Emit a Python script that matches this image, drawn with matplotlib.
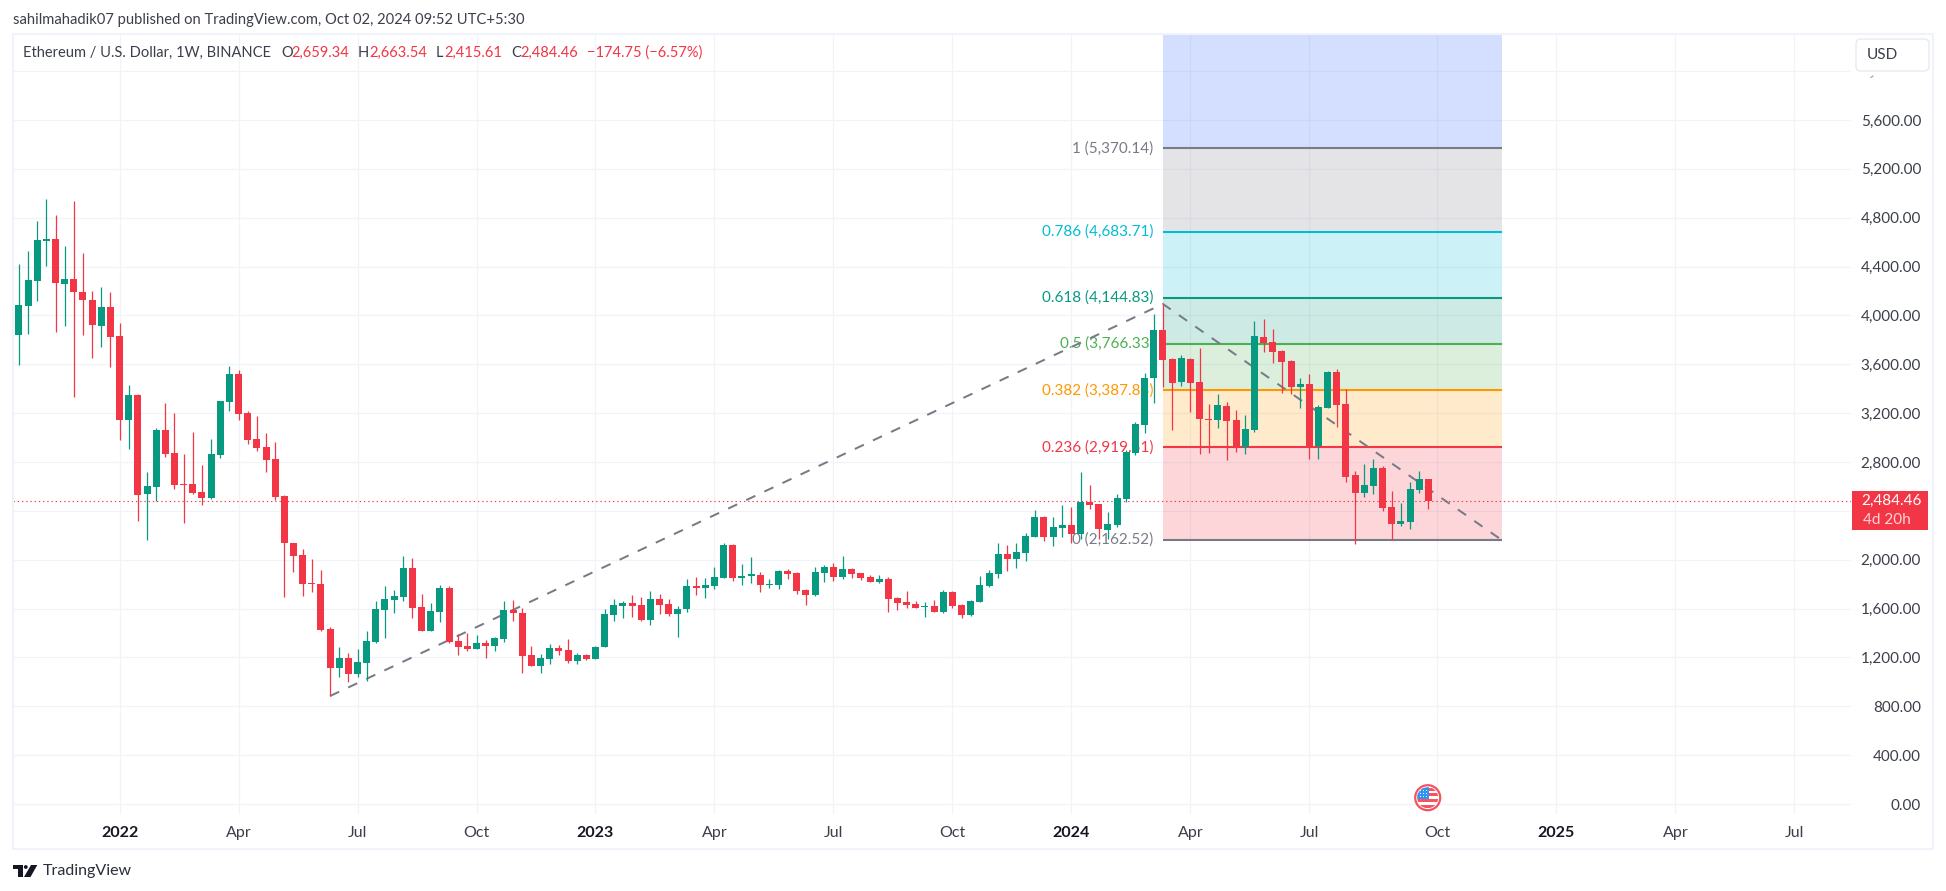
import numpy as np
import pandas as pd
import matplotlib
matplotlib.use('Agg')
import matplotlib.pyplot as plt
from matplotlib.patches import Rectangle, Circle, Polygon, FancyBboxPatch

# weekly candles, first bar is the week of 2021-10-18
first_bar = pd.Timestamp('2021-10-18')
open_ = [3840,4077,4282,4609,4626,4257,4298,4192,4126,3914,4069,
         3832,3144,3349,2538,2595,3062,2874,2620,2620,2554,2505,2857,3291,
         3521,3201,2988,2923,2825,2522,2137,2039,1809,1801,1433,1113,1195,
         1064,1154,1326,1588,1670,1695,1932,1613,1416,1572,1768,1334,1293,
         1269,1318,1293,1351,1588,1564,1220,1130,1187,1277,1261,1171,1220,
         1187,1285,1547,1621,1645,1629,1506,1678,1637,1555,1596,1785,1768,
         1785,1850,2120,1850,1867,1875,1793,1793,1907,1891,1752,1711,1891,
         1940,1858,1924,1891,1858,1817,1842,1686,1654,1637,1613,1621,1572,
         1736,1629,1547,1654,1785,1883,2047,2006,2055,2186,2350,2186,2260,
         2284,2210,2472,2456,2243,2284,2497,2874,3103,3488,3881,3643,3455,
         3643,3455,3152,3144,3258,3144,2923,3062,3823,3782,3709,3627,3414,
         3438,2931,3242,3537,3275,2693,2546,2603,2751,2431,2292,2309,2571,
         2659.34]
high = [4421,4528,4773,4953,4822,4568,4937,4511,4200,4233,4192,
        3938,3430,3357,2718,3078,3283,3201,2866,3046,2776,2988,3300,3586,
        3553,3218,3177,3037,2964,2530,2140,2088,2006,1916,1449,1285,1236,
        1269,1416,1662,1785,1752,2030,2014,1719,1645,1793,1785,1392,1400,
        1384,1342,1367,1662,1670,1605,1293,1228,1310,1302,1351,1236,1228,
        1293,1596,1678,1662,1711,1695,1744,1719,1678,1621,1842,1858,1850,
        1940,2137,2125,1965,2022,1899,1842,1916,1924,1899,1760,1940,1957,
        1973,2030,1932,1895,1875,1875,1858,1695,1744,1662,1654,1670,1752,
        1744,1637,1670,1867,1916,2137,2120,2137,2219,2407,2358,2350,2448,
        2431,2718,2612,2460,2391,2538,2898,3127,3529,4012,4094,3648,3676,
        3651,3733,3275,3357,3291,3226,3185,3954,3971,3889,3715,3635,3488,
        3520,3267,3545,3561,3397,2726,2784,2824,2767,2562,2464,2636,2726,
        2663.54]
low = [3594,3848,4118,4405,3864,3914,3332,3840,3652,3742,3578,
       2980,2907,2317,2161,2481,2841,2579,2301,2538,2448,2497,2833,3218,
       3144,2947,2890,2718,2489,1695,1899,1703,1736,1420,884,1040,999,
       1040,1007,1322,1359,1564,1662,1523,1416,1414,1490,1322,1220,1252,
       1265,1195,1252,1326,1498,1072,1128,1072,1146,1220,1154,1146,1179,
       1185,1283,1498,1523,1531,1498,1465,1555,1539,1367,1572,1711,1686,
       1760,1848,1826,1793,1809,1736,1768,1760,1842,1719,1629,1703,1817,
       1826,1842,1850,1834,1815,1809,1572,1588,1605,1603,1531,1570,1564,
       1605,1523,1539,1652,1776,1850,1907,1932,1989,2184,2153,2112,2186,
       2137,2170,2415,2170,2170,2268,2472,2857,3037,3283,3414,3062,3422,
       3209,2865,2874,3078,2816,2882,2865,3045,3700,3610,3365,3357,3242,
       2824,2824,3240,3086,2636,2129,2513,2538,2399,2161,2276,2251,2546,
       2415.61]
close = [4085,4290,4618,4626,4266,4298,4192,4126,3922,4069,3823,
         3144,3349,2530,2604,3062,2866,2612,2612,2546,2505,2866,3300,3521,
         3193,2980,2915,2816,2514,2137,2030,1801,1801,1424,1113,1195,1064,
         1162,1334,1596,1678,1703,1932,1605,1416,1580,1768,1326,1285,1269,
         1318,1293,1359,1588,1564,1212,1130,1195,1277,1252,1171,1220,1187,
         1285,1555,1629,1645,1621,1506,1678,1629,1555,1596,1785,1768,1793,
         1858,2120,1850,1867,1883,1793,1801,1907,1883,1744,1711,1899,1940,
         1858,1924,1883,1850,1817,1842,1678,1645,1629,1605,1621,1572,1736,
         1621,1547,1662,1793,1891,2047,2006,2063,2194,2350,2186,2268,2284,
         2210,2472,2448,2251,2292,2505,2882,3111,3488,3881,3635,3447,3651,
         3447,3152,3144,3267,3135,2923,3070,3831,3774,3700,3619,3414,3438,
         2923,3250,3537,3267,2677,2546,2611,2751,2423,2292,2317,2579,2661,
         2484.46]

# time axis
tick_dates = ['2022-01-03','2022-04-04','2022-07-04','2022-10-03','2023-01-02','2023-04-03','2023-07-03',
              '2023-10-02','2024-01-01','2024-04-01','2024-07-01','2024-10-07','2025-01-06','2025-04-07','2025-07-07']
tick_labels = ['2022','Apr','Jul','Oct','2023','Apr','Jul','Oct','2024','Apr','Jul','Oct','2025','Apr','Jul']
# price axis, 2,400 sits behind the price tag and 6,000 behind the USD button
price_ticks = [0,400,800,1200,1600,2000,2400,2800,3200,3600,4000,4400,4800,5200,5600,6000]
hidden_ticks = [2400, 6000]

# fibonacci drawing
fib_levels = [0, 0.236, 0.382, 0.5, 0.618, 0.786, 1]
fib_prices = [2162.52, 2919.51, 3387.83, 3766.33, 4144.83, 4683.71, 5370.14]
fib_top = 7352.0
fib_colors = ['#787B86','#F23645','#FF9800','#4CAF50','#089981','#00BCD4','#787B86']
fib_fills = ['#F23645','#FF9800','#4CAF50','#089981','#00BCD4','#787B86','#2962FF']
fib_start = '2024-03-11'
fib_end = '2024-11-25'
# dashed trend line, bar date and price
trend_dates = ['2022-06-13','2024-03-11','2024-11-25']
trend_prices = [884, 4094, 2162.52]
last_price = 2484.46

UI_FONT = ['Lato', 'DejaVu Sans']
GREEN = '#089981'
RED = '#F23645'
TEXT = '#3B3F4A'
DARK = '#131722'
GRID = '#F0F3FA'
W, H = 1946, 891

plt.rcParams['font.family'] = UI_FONT
fig = plt.figure(figsize=(W/100, H/100), dpi=100, facecolor='white')

# pane in pixels: left 13, right 1851, top 34, bottom 814
ax = fig.add_axes([13/W, (H-814)/H, (1851-13)/W, (814-34)/H])
bar_px = 9.152
ax.set_xlim((13-18.9)/bar_px, (1851-18.9)/bar_px)
ax.set_ylim(-(814-804)/0.12214, (804-34)/0.12214)
for s in ax.spines.values():
    s.set_visible(False)

def barPos(day):
    return (pd.Timestamp(day)-first_bar).days/7

xs = np.arange(len(open_))
o = np.array(open_)
h = np.array(high)
l = np.array(low)
c = np.array(close)
colors = [GREEN if c[i] >= o[i] else RED for i in range(len(o))]

# grid
ax.set_xticks([barPos(d) for d in tick_dates])
ax.set_xticklabels(tick_labels)
ax.set_yticks(price_ticks)
ax.set_yticklabels(['' if p in hidden_ticks else '{:,.2f}'.format(p) for p in price_ticks])
ax.set_axisbelow(True)
ax.grid(True, color=GRID, linewidth=0.9)
ax.yaxis.tick_right()
ax.tick_params(axis='both', length=0)
ax.tick_params(axis='y', pad=50.5, labelsize=11, labelcolor=TEXT)
ax.tick_params(axis='x', pad=8.5, labelsize=11.5, labelcolor=TEXT)
for t in ax.get_yticklabels():
    t.set_ha('right')
for t in ax.get_xticklabels():
    if t.get_text().isdigit():
        t.set_fontweight('bold')
        t.set_color(DARK)

# fib zones, lines, labels
x0, x1 = barPos(fib_start), barPos(fib_end)
edges = fib_prices + [fib_top]
for i in range(len(fib_fills)):
    ax.fill_between([x0, x1], edges[i], edges[i+1], color=fib_fills[i], alpha=0.2, linewidth=0, zorder=1)
for i in range(len(fib_levels)):
    ax.plot([x0, x1], [fib_prices[i], fib_prices[i]], color=fib_colors[i], linewidth=1.5, zorder=2,
            solid_capstyle='butt')
    ax.text(x0-1.05, fib_prices[i], '{:g} ({:,.2f})'.format(fib_levels[i], fib_prices[i]), color=fib_colors[i],
            fontsize=11, ha='right', va='center', zorder=2.2)

# dashed trend
ax.plot([barPos(d) for d in trend_dates], trend_prices, color='#787B86', linewidth=1.44,
        linestyle=(0, (5, 5)), zorder=2.5)

# last price line
ax.axhline(last_price, color=RED, linewidth=0.8, linestyle=(0, (1.2, 2.6)), zorder=2.6)

# candles
ax.vlines(xs, l, h, colors=colors, linewidth=0.9, zorder=3)
ax.bar(xs, np.abs(c-o), bottom=np.minimum(o, c), width=7/bar_px, color=colors, linewidth=0, zorder=4)

# overlay in pixel coordinates for the chart furniture
ui = fig.add_axes([0, 0, 1, 1], facecolor='none')
ui.set_xlim(0, W)
ui.set_ylim(H, 0)
ui.axis('off')
ui.add_patch(Rectangle((13, 33.5), 1933-13, 849-33.5, fill=False, edgecolor=GRID, linewidth=1.5))

ui.text(13, 20, 'sahilmahadik07 published on TradingView.com, Oct 02, 2024 09:52 UTC+5:30',
        fontsize=10.6, color=TEXT, va='center')

# legend row
ui.text(23, 53, 'Ethereum / U.S. Dollar, 1W, BINANCE', fontsize=10.5, color=TEXT, va='center')
header = [(281, 'O', TEXT), (291, '2,659.34', RED), (358, 'H', TEXT), (369, '2,663.54', RED), (436, 'L', TEXT),
          (444, '2,415.61', RED), (511, 'C', TEXT), (520, '2,484.46', RED), (587, '\u2212174.75 (\u22126.57%)', RED)]
for hx, s, col in header:
    ui.text(hx, 53, s, fontsize=10.5, color=col, va='center')

# USD button, with the tail of the clipped 6,000.00 comma below it
ui.add_patch(FancyBboxPatch((1858, 41), 69, 28, boxstyle='round,pad=2,rounding_size=5', facecolor='white',
                            edgecolor='#E8EAF2', linewidth=1))
ui.text(1867, 55, 'USD', fontsize=11, color=TEXT, va='center')
ui.plot([1871, 1873], [77.5, 76], color='#9A9CA3', linewidth=0.8)

# last price tag
ui.add_patch(Rectangle((1852, 491), 76, 38.5, facecolor=RED, edgecolor='none'))
ui.text(1921.5, 501, '2,484.46', fontsize=11, color='white', ha='right', va='center')
ui.text(1863, 520, '4d 20h', fontsize=11, color='#FFD5D9', ha='left', va='center')

# event flag
fx, fy = 1427.7, 797.7
clip = Circle((fx, fy), 10.5, transform=ui.transData)
ui.add_patch(Circle((fx, fy), 12.5, facecolor='white', edgecolor='#F7525F', linewidth=1.6))
for sy in [-10, -4.5, 1.5, 7]:
    ui.add_patch(Rectangle((fx-11, fy+sy), 22, 2.8, facecolor='#F7525F', edgecolor='none', clip_path=clip))
ui.add_patch(Rectangle((fx-11, fy-11), 12, 12, facecolor='#2E96F0', edgecolor='none', clip_path=clip))
for dx in [-8, -5, -2]:
    for dy in [-8, -5, -2]:
        ui.add_patch(Rectangle((fx+dx, fy+dy), 1.4, 1.4, facecolor='white', edgecolor='none', clip_path=clip))

# logo and name
ui.add_patch(Polygon([(13, 865), (23, 865), (23, 877), (18, 877), (18, 869), (13, 869)], facecolor=DARK, edgecolor='none'))
ui.add_patch(Circle((25.8, 867), 1.9, facecolor=DARK, edgecolor='none'))
ui.add_patch(Polygon([(31, 865), (37.3, 865), (30.5, 877), (24, 877)], facecolor=DARK, edgecolor='none'))
ui.text(42.7, 871.5, 'TradingView', fontsize=11.5, color='#2A2E39', va='center')

fig.savefig('out.png', dpi=100)
